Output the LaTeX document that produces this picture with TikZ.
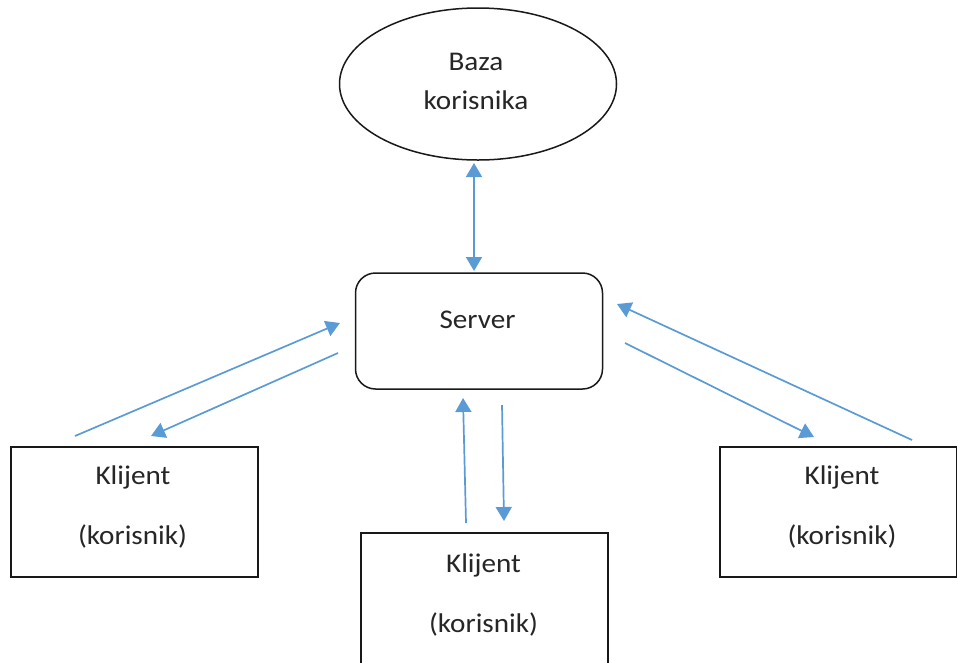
\documentclass[tikz,border=0pt]{standalone}
\usepackage{fontspec}
\setmainfont[FakeStretch=1.08]{Carlito}
\usetikzlibrary{shapes.geometric,arrows.meta}
\definecolor{arrowblue}{RGB}{91,155,213}
\tikzset{
  x=1pt,y=-1pt,
  lbl/.style={font=\fontsize{27}{32}\selectfont,inner sep=0pt,text=black!85},
  box/.style={draw=black!90,line width=1.5pt,fill=white},
  link/.style={draw=arrowblue,line width=1.7pt,-{Triangle[length=14pt,width=16pt]}},
  biglink/.style={draw=arrowblue,line width=1.7pt,{Triangle[length=14pt,width=16pt]}-{Triangle[length=14pt,width=16pt]}}
}
\begin{document}
\begin{tikzpicture}
\useasboundingbox (0,0) rectangle (957,662);
\clip (0,0) rectangle (957,662);
\node[ellipse,box,minimum width=277pt,minimum height=152pt,inner sep=0pt] (baza) at (478,84) {};
\node[lbl] (bazaA) at (476,62) {Baza};
\node[lbl] (bazaB) at (476,100) {korisnika};
\node[rectangle,rounded corners=20pt,box,minimum width=247pt,minimum height=116pt,inner sep=0pt] (server) at (479,331) {};
\node[lbl] (serverT) at (477.5,320) {Server};
\node[rectangle,box,minimum width=247pt,minimum height=130pt,inner sep=0pt] (k1) at (134.5,512) {};
\node[lbl] (k1a) at (133,477) {Klijent};
\node[lbl] (k1b) at (132.5,536) {(korisnik)};
\node[rectangle,box,minimum width=247pt,minimum height=160pt,inner sep=0pt] (k2) at (484.5,613) {};
\node[lbl] (k2a) at (483.5,565) {Klijent};
\node[lbl] (k2b) at (483.5,624) {(korisnik)};
\node[rectangle,box,minimum width=237pt,minimum height=130pt,inner sep=0pt] (k3) at (838.5,512) {};
\node[lbl] (k3a) at (842,477) {Klijent};
\node[lbl] (k3b) at (842,536) {(korisnik)};
\coordinate (a1s) at (75,436);   \coordinate (a1e) at (340,323);
\coordinate (a2s) at (338,353);  \coordinate (a2e) at (151,436);
\coordinate (a3s) at (466,523);  \coordinate (a3e) at (463,398);
\coordinate (a4s) at (502,405);  \coordinate (a4e) at (504,521);
\coordinate (a5s) at (912,440);  \coordinate (a5e) at (617,304);
\coordinate (a6s) at (625,343);  \coordinate (a6e) at (814,437);
\coordinate (a7s) at (474,163);  \coordinate (a7e) at (474,271);
\draw[link] (a1s) -- (a1e);
\draw[link] (a2s) -- (a2e);
\draw[link] (a3s) -- (a3e);
\draw[link] (a4s) -- (a4e);
\draw[link] (a5s) -- (a5e);
\draw[link] (a6s) -- (a6e);
\draw[biglink] (a7s) -- (a7e);
\end{tikzpicture}
\end{document}
